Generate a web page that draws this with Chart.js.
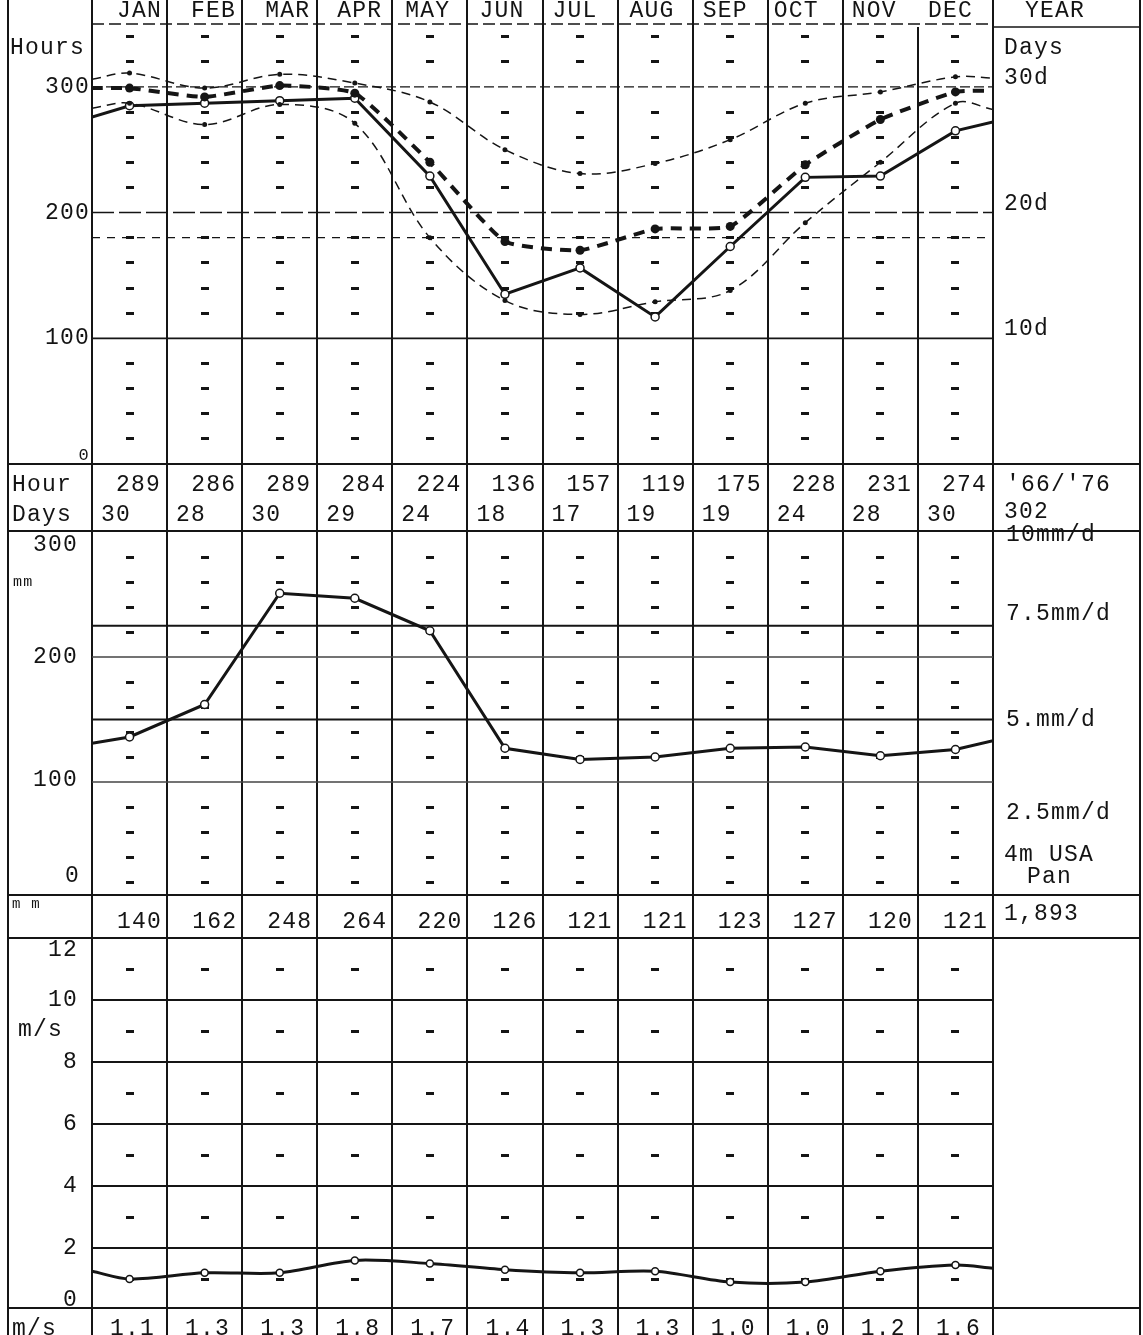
<!DOCTYPE html>
<html><head><meta charset="utf-8">
<script src="https://cdn.jsdelivr.net/npm/chart.js@4.4.1/dist/chart.umd.min.js"></script>
<style>
html,body{margin:0;padding:0;background:#fff;}
#wrap{position:relative;width:1143px;height:1335px;overflow:hidden;background:#fff;}
#c{position:absolute;left:0;top:0;}
.t{position:absolute;font-family:'Liberation Mono',monospace;font-size:23px;line-height:1;white-space:pre;color:#141414;letter-spacing:1.2px;}
</style></head><body>
<div id="wrap"><canvas id="c" width="1143" height="1335"></canvas></div>
<script>
// ---------------- data ----------------
const months = ['JAN','FEB','MAR','APR','MAY','JUN','JUL','AUG','SEP','OCT','NOV','DEC'];
// Sunshine panel (hours) – plotted curves
const sunHours = [285, 287, 289, 291, 229, 135, 156, 117, 173, 228, 229, 265];
const sunHoursEnds = [276, 272];
const sunBold = [299, 292, 301, 295, 240, 177, 170, 187, 189, 238, 274, 296];
const sunBoldEnds = [299, 297];
const sunUpper = [311, 299, 310, 303, 288, 250, 231, 239, 258, 287, 296, 308];
const sunUpperEnds = [306, 307];
const sunLower = [287, 270, 286, 271, 180, 130, 119, 129, 138, 192, 240, 287];
const sunLowerEnds = [283, 282];
const hourRow = ['289','286','289','284','224','136','157','119','175','228','231','274'];
const daysRow = ['30','28','30','29','24','18','17','19','19','24','28','30'];
const hourYear = "'66/'76";
const daysYear = '302';
// Evaporation panel (mm)
const evap = [136, 162, 251, 247, 221, 127, 118, 120, 127, 128, 121, 126];
const evapEnds = [131, 133];
const mmRow = ['140','162','248','264','220','126','121','121','123','127','120','121'];
const mmYear = '1,893';
// Wind panel (m/s)
const wind = [1.0, 1.2, 1.2, 1.6, 1.5, 1.3, 1.2, 1.25, 0.9, 0.9, 1.25, 1.45];
const windEnds = [1.25, 1.35];
const msRow = ['1.1','1.3','1.3','1.8','1.7','1.4','1.3','1.3','1.0','1.0','1.2','1.6'];
// tick labels
const hourTicks = [300, 200, 100];
const dayTicks = ['30d', '20d', '10d'];
const rainTicks = [300, 200, 100];
const rainRateVals = [225, 150, 75];
const rainRateTicks = ['7.5mm/d', '5.mm/d', '2.5mm/d'];
const windTicks = [12, 10, 8, 6, 4, 2, 0];

// ---------------- layout ----------------
const W = 1143, H = 1335;
const PLOT_L = 92, PLOT_R = 993, LEFT = 8, RIGHT = 1140;
const panels = {
  yH: {vTop: 350, pTop: 24, vBot: 0, pBot: 464},
  yR: {vTop: 300, pTop: 532, vBot: 0, pBot: 907},
  yW: {vTop: 12, pTop: 938, vBot: 0, pBot: 1310}
};
const rowLines = [464, 531, 895, 938, 1308];
const headShift = [10, 9, 8, 5, -2, -3, -5, -3, -5, -9, -6, -5];
function axisRange(p) {
  const s = (p.pBot - p.pTop) / (p.vTop - p.vBot);
  return {min: p.vBot - (H - p.pBot) / s, max: p.vTop + p.pTop / s};
}
function series(vals, ends) {
  return [{x: 0, y: ends[0]}].concat(vals.map((v, i) => ({x: i + 0.5, y: v})), [{x: 12, y: ends[1]}]);
}
function radii(r) { return [0].concat(months.map(() => r), [0]); }

const INK = '#151515';

const framePlugin = {
  id: 'frame',
  beforeDatasetsDraw(chart) {
    const ctx = chart.ctx;
    const x = chart.scales.x, yH = chart.scales.yH, yR = chart.scales.yR, yW = chart.scales.yW;
    const xl = x.getPixelForValue(0), xr = x.getPixelForValue(12);
    ctx.save();
    ctx.strokeStyle = INK; ctx.fillStyle = INK;
    function hl(y, x0, x1, lw, dash) {
      ctx.beginPath(); ctx.setLineDash(dash || []); ctx.lineWidth = lw;
      ctx.moveTo(x0, y); ctx.lineTo(x1, y); ctx.stroke(); ctx.setLineDash([]);
    }
    function vl(xx, y0, y1, lw) {
      ctx.beginPath(); ctx.lineWidth = lw; ctx.moveTo(xx, y0); ctx.lineTo(xx, y1); ctx.stroke();
    }
    // column lines
    for (let i = 0; i <= 12; i++) {
      const px = Math.round(x.getPixelForValue(i));
      vl(px, i === 11 ? 27 : 0, H, 2);
    }
    vl(LEFT, 0, H, 2); vl(RIGHT, 0, H, 2);
    // row lines
    rowLines.forEach(y => hl(y, LEFT, RIGHT, 2));
    // header bottom
    hl(yH.getPixelForValue(350), xl, xr, 1.4, [12, 5]);
    hl(27, xr, RIGHT, 1.6);
    // sunshine grid
    hl(yH.getPixelForValue(300), xl, xr, 1.4, [10, 4]);
    hl(yH.getPixelForValue(200), xl, xr, 1.4, [22, 5]);
    hl(yH.getPixelForValue(180), xl, xr, 1.2, [8, 7]);
    hl(yH.getPixelForValue(100), xl, xr, 1.8);
    // evaporation grid
    hl(yR.getPixelForValue(225), xl, xr, 2.2);
    hl(yR.getPixelForValue(150), xl, xr, 2.2);
    ctx.strokeStyle = '#444';
    hl(yR.getPixelForValue(200), xl, xr, 1.3);
    hl(yR.getPixelForValue(100), xl, xr, 1.3);
    ctx.strokeStyle = INK;
    // wind grid
    [10, 8, 6, 4, 2].forEach(v => hl(yW.getPixelForValue(v), xl, xr, 1.8));
    // small dashes in every column
    const marks = [
      [yH, [20, 40, 60, 80, 120, 140, 160, 180, 220, 240, 260, 280, 320, 340]],
      [yR, [20, 40, 60, 80, 120, 140, 160, 180, 220, 240, 260, 280]],
      [yW, [1, 3, 5, 7, 9, 11]]
    ];
    marks.forEach(([sc, vals]) => {
      vals.forEach(v => {
        const py = sc.getPixelForValue(v);
        for (let i = 0; i < 12; i++) {
          const cx = x.getPixelForValue(i + 0.5);
          ctx.fillRect(Math.round(cx - 4), Math.round(py - 1.5), 8, 3);
        }
      });
    });
    ctx.restore();
  }
};

const rH = axisRange(panels.yH), rR = axisRange(panels.yR), rW = axisRange(panels.yW);

const chart = new Chart(document.getElementById('c'), {
  type: 'line',
  data: {
    datasets: [
      {label: 'upper', yAxisID: 'yH', data: series(sunUpper, sunUpperEnds), borderColor: INK, borderWidth: 1.5,
        borderDash: [9, 6], tension: 0.35, pointRadius: radii(2.5), pointBackgroundColor: INK, pointBorderWidth: 0},
      {label: 'lower', yAxisID: 'yH', data: series(sunLower, sunLowerEnds), borderColor: INK, borderWidth: 1.5,
        borderDash: [9, 6], tension: 0.35, pointRadius: radii(2.5), pointBackgroundColor: INK, pointBorderWidth: 0},
      {label: 'bold', yAxisID: 'yH', data: series(sunBold, sunBoldEnds), borderColor: INK, borderWidth: 4,
        borderDash: [11, 8], tension: 0.15, pointRadius: radii(4.5), pointBackgroundColor: INK, pointBorderWidth: 0},
      {label: 'hours', yAxisID: 'yH', data: series(sunHours, sunHoursEnds), borderColor: INK, borderWidth: 3,
        tension: 0, pointRadius: radii(4), pointBackgroundColor: '#fff', pointBorderColor: INK, pointBorderWidth: 1.5},
      {label: 'evap', yAxisID: 'yR', data: series(evap, evapEnds), borderColor: INK, borderWidth: 3,
        tension: 0, pointRadius: radii(4), pointBackgroundColor: '#fff', pointBorderColor: INK, pointBorderWidth: 1.5},
      {label: 'wind', yAxisID: 'yW', data: series(wind, windEnds), borderColor: INK, borderWidth: 3,
        tension: 0.3, pointRadius: radii(3.5), pointBackgroundColor: '#fff', pointBorderColor: INK, pointBorderWidth: 1.5}
    ]
  },
  options: {
    responsive: false, animation: false,
    layout: {padding: {left: PLOT_L, right: W - PLOT_R, top: 0, bottom: 0}},
    plugins: {legend: {display: false}, tooltip: {enabled: false}},
    scales: {
      x: {type: 'linear', min: 0, max: 12, display: false},
      yH: {type: 'linear', min: rH.min, max: rH.max, display: false},
      yR: {type: 'linear', min: rR.min, max: rR.max, display: false},
      yW: {type: 'linear', min: rW.min, max: rW.max, display: false}
    }
  },
  plugins: [framePlugin]
});

// ---------------- text ----------------
const wrap = document.getElementById('wrap');
function put(text, x, y, align, size) {
  const d = document.createElement('div');
  d.className = 't';
  d.textContent = text;
  if (size) d.style.fontSize = size + 'px';
  const tx = align === 'right' ? '-100%' : align === 'center' ? '-50%' : '0';
  d.style.left = x + 'px'; d.style.top = y + 'px';
  d.style.transform = 'translate(' + tx + ',-50%)';
  wrap.appendChild(d);
}
const X = chart.scales.x, YH = chart.scales.yH, YR = chart.scales.yR, YW = chart.scales.yW;
const colC = i => X.getPixelForValue(i + 0.5);
const colL = i => X.getPixelForValue(i);
const colR = i => X.getPixelForValue(i + 1);

// header
months.forEach((m, i) => put(m, colC(i) + headShift[i], 11, 'center'));
put('YEAR', 1055, 11, 'center');
// sunshine panel labels
put('Hours', 10, 48, 'left');
hourTicks.forEach(v => put(String(v), 90, YH.getPixelForValue(v), 'right'));
put('0', 90, YH.getPixelForValue(0) - 9, 'right', 17);
put('Days', 1004, 48, 'left');
hourTicks.forEach((v, i) => put(dayTicks[i], 1004, YH.getPixelForValue(v) - 9, 'left'));
// hour & days rows
put('Hour', 12, 485, 'left');
put('Days', 12, 515, 'left');
hourRow.forEach((t, i) => put(t, colR(i) - 6, 485, 'right'));
daysRow.forEach((t, i) => put(t, colL(i) + 9, 515, 'left'));
put(hourYear, 1006, 485, 'left');
put(daysYear, 1004, 512, 'left');
// evaporation labels
put('300', 78, 545, 'right');
put('200', 78, YR.getPixelForValue(200), 'right');
put('100', 78, YR.getPixelForValue(100) - 2, 'right');
put('0', 80, 876, 'right');
put('mm', 13, 582, 'left', 15);
put('10mm/d', 1006, 535, 'left');
rainRateVals.forEach((v, i) => put(rainRateTicks[i], 1006, YR.getPixelForValue(v) - (i === 0 ? 12 : 0), 'left'));
put('4m USA', 1004, 855, 'left');
put('Pan', 1027, 877, 'left');
// mm row
put('m m', 12, 904, 'left', 14);
mmRow.forEach((t, i) => put(t, colR(i) - 5, 922, 'right'));
put(mmYear, 1004, 914, 'left');
// wind labels
windTicks.forEach(v => {
  let y = YW.getPixelForValue(v);
  if (v === 12) y += 12;
  if (v === 0) y -= 10;
  put(String(v), 78, y, 'right');
});
put('m/s', 18, 1030, 'left');
// m/s row
put('m/s', 12, 1329, 'left');
msRow.forEach((t, i) => put(t, colC(i) + 3, 1329, 'center'));
</script>
</body></html>
